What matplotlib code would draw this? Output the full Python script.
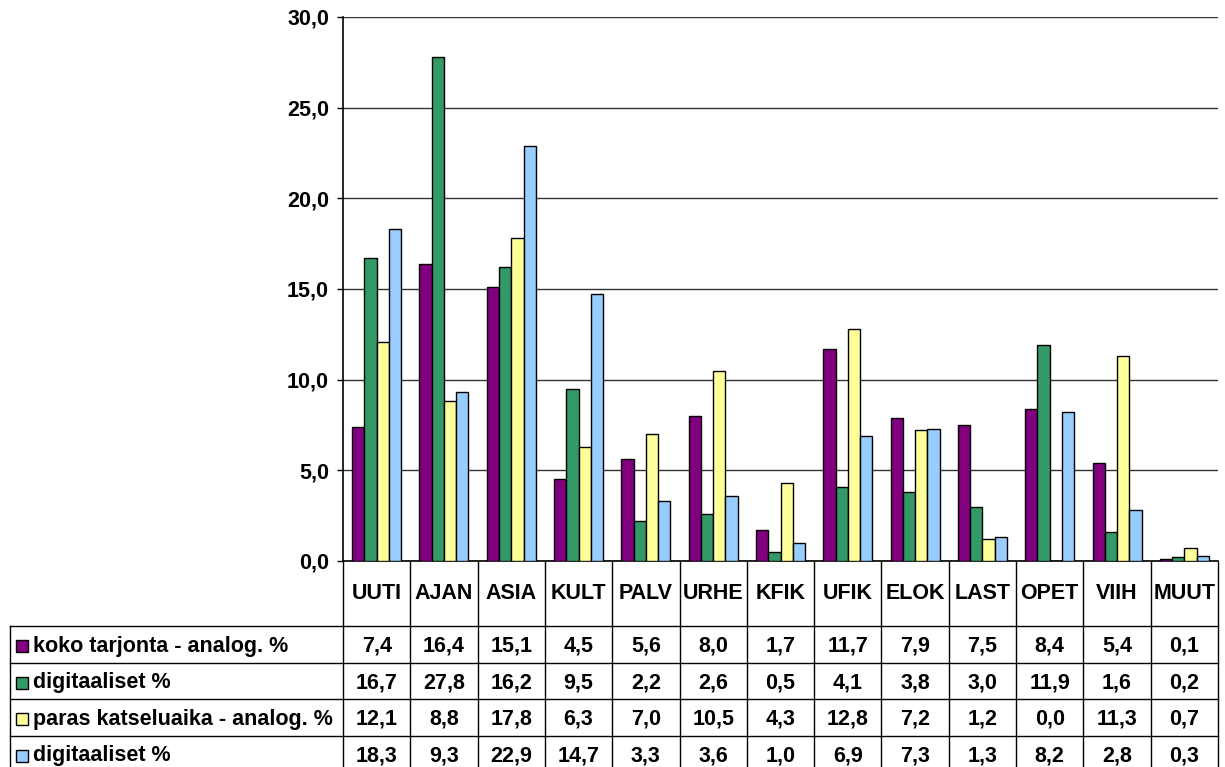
import numpy as np
import matplotlib
matplotlib.use('Agg')
import matplotlib.pyplot as plt
from matplotlib.patches import Rectangle

plt.rcParams['font.family'] = ['Liberation Sans', 'DejaVu Sans']
plt.rcParams['font.weight'] = 'bold'

categories = ['UUTI', 'AJAN', 'ASIA', 'KULT', 'PALV', 'URHE', 'KFIK',
              'UFIK', 'ELOK', 'LAST', 'OPET', 'VIIH', 'MUUT']
labels = ['koko tarjonta - analog. %', 'digitaaliset %',
          'paras katseluaika - analog. %', 'digitaaliset %']
koko_analog = [7.4, 16.4, 15.1, 4.5, 5.6, 8.0, 1.7, 11.7, 7.9, 7.5, 8.4, 5.4, 0.1]
koko_digi = [16.7, 27.8, 16.2, 9.5, 2.2, 2.6, 0.5, 4.1, 3.8, 3.0, 11.9, 1.6, 0.2]
paras_analog = [12.1, 8.8, 17.8, 6.3, 7.0, 10.5, 4.3, 12.8, 7.2, 1.2, 0.0, 11.3, 0.7]
paras_digi = [18.3, 9.3, 22.9, 14.7, 3.3, 3.6, 1.0, 6.9, 7.3, 1.3, 8.2, 2.8, 0.3]
colors = ['#800080', '#339966', '#FFFF99', '#99CCFF']

series = [koko_analog, koko_digi, paras_analog, paras_digi]
fs = 15.5


def fmt(v):
    return f'{v:.1f}'.replace('.', ',')


W, H = 1225, 767
fig = plt.figure(figsize=(W / 100, H / 100), dpi=100)
# plot area in pixels
px0, px1, py0, py1 = 343, 1218, 17, 561
aw, ah = px1 - px0, py1 - py0
ax = fig.add_axes([px0 / W, 1 - py1 / H, aw / W, ah / H])

x = np.arange(len(categories))
w = 0.182
for i, s in enumerate(series):
    ax.bar(x + (i - 1.5) * w, s, w, color=colors[i], edgecolor='black',
           linewidth=1, zorder=3)

ax.set_xlim(-0.5, len(categories) - 0.5)
ax.set_ylim(0, 30)
yt = np.arange(0, 31, 5)
ax.set_yticks(yt)
ax.set_yticklabels([fmt(v) for v in yt], fontsize=fs, fontweight='bold')
ax.set_xticks([])
ax.tick_params(axis='y', length=4.5, width=1, pad=5.5)
ax.yaxis.grid(True, color='#333333', linewidth=1)
ax.set_axisbelow(True)
for sp in ['top', 'right']:
    ax.spines[sp].set_visible(False)
ax.spines['left'].set_linewidth(1.2)
ax.spines['bottom'].set_linewidth(1.2)

# data table under the chart (pixel offsets below the axis -> axes fraction)
head_h = 65
row_h = 36.5
left = (10 - px0) / aw
xt = ax.get_xaxis_transform()


def yax(p):
    return -p / ah


n_rows = len(series)
bottom = yax(head_h + row_h * n_rows + 2)
ax.vlines(np.arange(len(categories) + 1) - 0.5, bottom, 0, transform=xt,
          colors='black', linewidth=1, clip_on=False)
ax.plot([left, left], [yax(head_h), bottom], transform=ax.transAxes,
        color='black', linewidth=1, clip_on=False)
for i in range(n_rows):
    yy = yax(head_h + row_h * i)
    ax.plot([left, 1], [yy, yy], transform=ax.transAxes, color='black',
            linewidth=1, clip_on=False)

for j, cat in enumerate(categories):
    ax.text(j, yax(head_h / 2), cat, transform=xt, ha='center', va='center',
            fontsize=fs, fontweight='bold')
for i, s in enumerate(series):
    yc = yax(head_h + row_h * (i + 0.5) + 2)
    ax.text((33 - px0) / aw, yc, labels[i], transform=ax.transAxes,
            ha='left', va='center', fontsize=fs, fontweight='bold')
    ax.add_patch(Rectangle(((16 - px0) / aw, yc - 6 / ah), 12 / aw, 12 / ah,
                           facecolor=colors[i], edgecolor='black', linewidth=1,
                           transform=ax.transAxes, clip_on=False))
    for j, v in enumerate(s):
        ax.text(j, yc, fmt(v), transform=xt, ha='center', va='center',
                fontsize=fs, fontweight='bold')

fig.savefig('out.png', dpi=100)
